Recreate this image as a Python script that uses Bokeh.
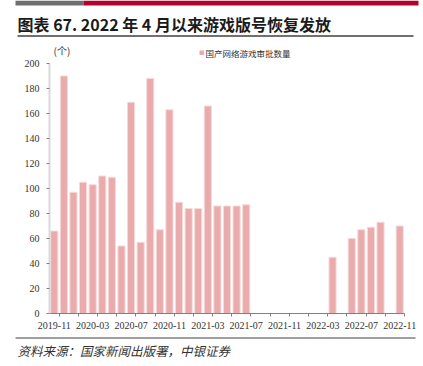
from bokeh.plotting import figure
from bokeh.models import Range1d, FixedTicker, ColumnDataSource
from bokeh.layouts import column
from bokeh.core.properties import value
from bokeh.embed import file_html
from bokeh.resources import INLINE

# ---------------- data ----------------
months = [
    "2019-11", "2019-12",
    "2020-01", "2020-02", "2020-03", "2020-04", "2020-05", "2020-06",
    "2020-07", "2020-08", "2020-09", "2020-10", "2020-11", "2020-12",
    "2021-01", "2021-02", "2021-03", "2021-04", "2021-05", "2021-06",
    "2021-07", "2021-08", "2021-09", "2021-10", "2021-11", "2021-12",
    "2022-01", "2022-02", "2022-03", "2022-04", "2022-05", "2022-06",
    "2022-07", "2022-08", "2022-09", "2022-10", "2022-11",
]
approvals = [
    66, 190,
    97, 105, 103, 110, 109, 54,
    169, 57, 188, 67, 163, 89,
    84, 84, 166, 86, 86, 86,
    87, None, None, None, None, None,
    None, None, None, 45, None, 60,
    67, 69, 73, None, 70,
]
tick_labels = ["2019-11", "2020-03", "2020-07", "2020-11", "2021-03",
               "2021-07", "2021-11", "2022-03", "2022-07", "2022-11"]
y_ticks = [0, 20, 40, 60, 80, 100, 120, 140, 160, 180, 200]

title_text = "图表 67. 2022 年 4 月以来游戏版号恢复发放"
unit_text = "(个)"
legend_text = "国产网络游戏审批数量"
source_text = "资料来源：国家新闻出版署，中银证券"

BAR = "#E9ABAB"
CJK = value("Noto Sans CJK SC")
NARROW = "Liberation Sans Narrow"

W = 423
H_TOP, H_MID, H_BOT = 58, 274, 34


def blank(height, y0):
    f = figure(width=W, height=height, x_range=Range1d(0, W),
               y_range=Range1d(y0 + height, y0), x_axis_type=None, y_axis_type=None,
               toolbar_location=None, output_backend="svg", min_border=0,
               outline_line_color=None, frame_align=False)
    f.grid.visible = False
    return f


# ---------------- header ----------------
hdr = blank(H_TOP, 0)
hdr.quad(left=[15], right=[83], top=[0], bottom=[5], fill_color="#6F6F6F", line_color=None)
hdr.quad(left=[83], right=[418], top=[0], bottom=[5], fill_color="#B4002A", line_color=None)
hdr.text(x=[17], y=[23], text=[title_text], text_font=CJK, text_font_style="bold",
         text_font_size="16px", text_baseline="middle", text_align="left", text_color="#1A1A1A")
hdr.segment(x0=[17], y0=[35.5], x1=[413], y1=[35.5], line_color="#404040", line_width=1.5)
hdr.text(x=[53], y=[50], text=[unit_text], text_font=CJK, text_font_size="10px",
         text_baseline="middle", text_align="left", text_color="#333333")
hdr.quad(left=[199], right=[203.5], top=[50], bottom=[54.5], fill_color=BAR, line_color=None)
hdr.text(x=[205], y=[52], text=[legend_text], text_font=CJK, text_font_size="8.5px",
         text_baseline="middle", text_align="left", text_color="#333333")

# ---------------- chart ----------------
idx = [i for i, v in enumerate(approvals) if v is not None]
src = ColumnDataSource(dict(x=idx, top=[approvals[i] for i in idx],
                            month=[months[i] for i in idx]))

p = figure(width=W, height=H_MID, x_range=Range1d(-0.5, len(months) - 0.5),
           y_range=Range1d(y_ticks[0], y_ticks[-1]), toolbar_location=None,
           output_backend="svg", min_border_left=49, min_border_right=19,
           min_border_top=5, min_border_bottom=19, outline_line_color=None,
           frame_align=False)
p.grid.visible = False
p.vbar(x="x", top="top", bottom=0, width=0.74, source=src, fill_color=BAR,
       line_color="#F6DADA", line_width=1)

tick_pos = [months.index(m) for m in tick_labels]
p.xaxis.ticker = FixedTicker(ticks=tick_pos,
                             minor_ticks=[i + 0.5 for i in range(0, len(months), 2)])
p.xaxis.major_label_overrides = {t: m for t, m in zip(tick_pos, tick_labels)}
p.xaxis.major_tick_line_color = None
p.xaxis.major_tick_out = 0
p.xaxis.major_tick_in = 0
p.xaxis.minor_tick_out = 3
p.xaxis.minor_tick_in = 0
p.xaxis.minor_tick_line_color = "#808080"
p.xaxis.axis_line_color = "#808080"
p.xaxis.axis_line_width = 1
p.xaxis.major_label_standoff = 5
p.xaxis.major_label_text_font = NARROW
p.xaxis.major_label_text_font_size = "10px"
p.xaxis.major_label_text_color = "#333333"

p.yaxis.ticker = FixedTicker(ticks=y_ticks)
p.yaxis.axis_line_color = "#D9D9D9"
p.yaxis.axis_line_width = 2
p.yaxis.major_tick_out = 3
p.yaxis.major_tick_in = 0
p.yaxis.major_tick_line_color = "#808080"
p.yaxis.minor_tick_line_color = None
p.yaxis.major_label_standoff = 7
p.yaxis.major_label_text_font = NARROW
p.yaxis.major_label_text_font_size = "10px"
p.yaxis.major_label_text_color = "#333333"

# ---------------- footer ----------------
ftr = blank(H_BOT, H_TOP + H_MID)
ftr.segment(x0=[15], y0=[337.5], x1=[415], y1=[337.5], line_color="#7F7F7F", line_width=1.5)
ftr.text(x=[17], y=[350], text=[source_text], text_font=CJK, text_font_style="italic",
         text_font_size="12.5px", text_baseline="middle", text_align="left", text_color="#333333")

layout = column(hdr, p, ftr, spacing=0)
open("out.html", "w").write(file_html(layout, INLINE))
